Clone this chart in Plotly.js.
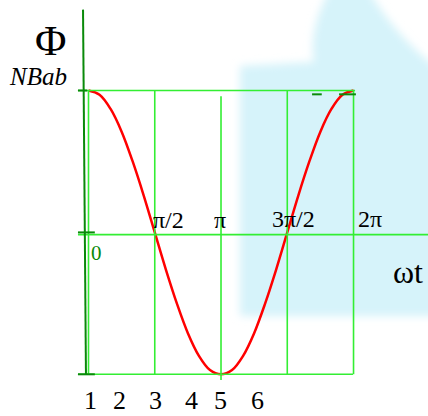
<!DOCTYPE html>
<html>
<head>
<meta charset="utf-8">
<script src="https://cdn.plot.ly/plotly-3.0.1.min.js"></script>
<style>
  html, body { margin: 0; padding: 0; background: #ffffff; overflow: hidden; }
  #wrap { position: relative; width: 428px; height: 416px; }
  #bg, #chart { position: absolute; left: 0; top: 0; width: 428px; height: 416px; }
</style>
</head>
<body>
<div id="wrap">
  <!-- soft cyan backdrop panel behind the plot -->
  <svg id="bg" width="428" height="416" viewBox="0 0 428 416">
    <defs>
      <filter id="soft" x="-10%" y="-10%" width="120%" height="120%">
        <feGaussianBlur stdDeviation="4"/>
      </filter>
    </defs>
    <path filter="url(#soft)" fill="#d6f3fa"
          d="M 240 66 L 314 62 C 310 40 316 14 330 -10 L 368 -10 C 388 22 408 46 440 70 L 440 316 L 240 316 Z"/>
  </svg>
  <div id="chart"></div>
</div>
<script>
// Flux through the coil over one turn: Φ = NBab·cos ωt
const ANGLE_DEG = [0, 15, 30, 45, 60, 75, 90, 105, 120, 135, 150, 165, 180,
                   195, 210, 225, 240, 255, 270, 285, 300, 315, 330, 345, 360];
const PHI = [1.00, 0.97, 0.87, 0.71, 0.50, 0.26, 0.00, -0.26, -0.50, -0.71, -0.87, -0.97, -1.00,
             -0.97, -0.87, -0.71, -0.50, -0.26, 0.00, 0.26, 0.50, 0.71, 0.87, 0.97, 1.00];

// grid positions along ωt (radians) and their labels
const GRID_X = [0, Math.PI / 2, Math.PI, 3 * Math.PI / 2, 2 * Math.PI];
const PHASE_LABELS = ['π/2', 'π', '3π/2', '2π'];
const GRID_Y = [1, 0, -1];

// step numbers written under the time axis
const STEP_LABELS = ['1', '2', '3', '4', '5', '6'];

const omegaT = ANGLE_DEG.map(d => d * Math.PI / 180);

const W = 428, H = 416;
const BRIGHT = '#33ee33';
const DARK = '#0a8a0a';
const SERIF = '"Liberation Serif", "DejaVu Serif", serif';

// paper coordinates from pixel offsets, for text placement
const px = v => v / W;
const py = v => 1 - v / H;

const shapes = [];
// vertical grid lines; the π line sits a little lower than the rest
GRID_X.forEach((g, i) => {
  const lowered = (i === 2);
  shapes.push({type: 'line', xref: 'x', yref: 'y', x0: g, x1: g,
               y0: lowered ? -1.04 : -1, y1: lowered ? 0.96 : 1,
               line: {color: BRIGHT, width: 1.6}});
});
// horizontal grid lines at +max, 0 and -max
const hEnds = {'1': 6.32, '0': 8.1, '-1': 6.27};
GRID_Y.forEach(g => {
  shapes.push({type: 'line', xref: 'x', yref: 'y', x0: -0.25, x1: hEnds[String(g)],
               y0: g === 0 ? -0.016 : g, y1: g === 0 ? -0.016 : g,
               line: {color: BRIGHT, width: 1.6}});
});
// dark Φ axis and its tick marks
shapes.push({type: 'line', xref: 'x', yref: 'y', x0: -0.13, y0: 1.57, x1: -0.06, y1: -1.0,
             line: {color: DARK, width: 2}});
shapes.push({type: 'line', xref: 'x', yref: 'y', x0: -0.25, x1: -0.03, y0: 1, y1: 1,
             line: {color: DARK, width: 2}});
shapes.push({type: 'line', xref: 'x', yref: 'y', x0: -0.25, x1: 0.15, y0: 0.0, y1: 0.0,
             line: {color: DARK, width: 2}});
shapes.push({type: 'line', xref: 'x', yref: 'y', x0: -0.25, x1: 0.15, y0: -1, y1: -1,
             line: {color: DARK, width: 2}});
// two short dashes just under the top line
shapes.push({type: 'line', xref: 'x', yref: 'y', x0: 5.30, x1: 5.53, y0: 0.973, y1: 0.973,
             line: {color: DARK, width: 2}});
shapes.push({type: 'line', xref: 'x', yref: 'y', x0: 5.94, x1: 6.34, y0: 0.973, y1: 0.973,
             line: {color: DARK, width: 2}});

const annotations = [];
const txt = (text, x, y, size, opts = {}) => annotations.push(Object.assign({
  text: text, xref: 'paper', yref: 'paper', x: px(x), y: py(y),
  xanchor: 'center', yanchor: 'middle', showarrow: false, borderpad: 0,
  font: {family: SERIF, size: size, color: '#000000'}
}, opts));

txt('Φ', 50.5, 40, 43);
txt('<i>NBab</i>', 38, 76, 25);
txt('0', 96, 252.5, 21, {font: {family: SERIF, size: 21, color: DARK}});

const PHASE_POS = [[168, 220.5], [220, 220.5], [293, 219.5], [370, 219.5]];
PHASE_LABELS.forEach((t, i) => txt(t, PHASE_POS[i][0], PHASE_POS[i][1], 24));

txt('ωt', 408, 272, 32);

const STEP_POS = [90, 119.3, 155.7, 191.7, 220.7, 257.3];
STEP_LABELS.forEach((t, i) => txt(t, STEP_POS[i], 400.5, 26));

const trace = {
  x: omegaT, y: PHI, type: 'scatter', mode: 'lines',
  line: {color: '#ff0000', width: 2.5, shape: 'spline'},
  hoverinfo: 'skip'
};

const layout = {
  width: W, height: H,
  margin: {l: 0, r: 0, t: 0, b: 0},
  paper_bgcolor: 'rgba(0,0,0,0)',
  plot_bgcolor: 'rgba(0,0,0,0)',
  showlegend: false,
  xaxis: {range: [-2.0982, 8.0488], visible: false, fixedrange: true},
  yaxis: {range: [-1.2939, 1.6378], visible: false, fixedrange: true},
  shapes: shapes,
  annotations: annotations
};

Plotly.newPlot('chart', [trace], layout, {displayModeBar: false, staticPlot: true});
</script>
</body>
</html>
